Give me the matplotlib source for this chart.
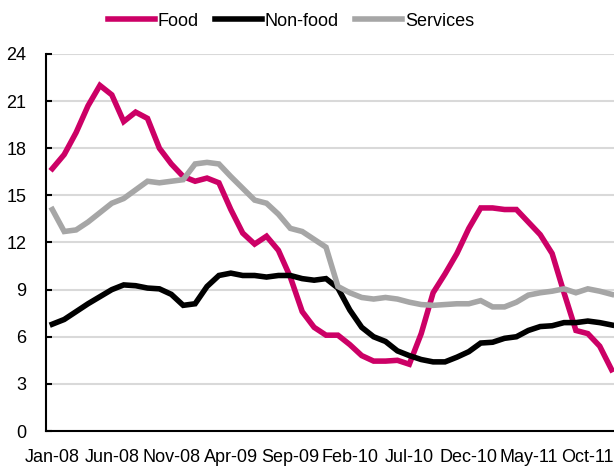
import numpy as np
import matplotlib
matplotlib.use('Agg')
import matplotlib.pyplot as plt

# monthly, Jan-08 .. Dec-11
months = [f'{m}-{y:02d}' for y in range(8, 12)
          for m in ['Jan', 'Feb', 'Mar', 'Apr', 'May', 'Jun',
                    'Jul', 'Aug', 'Sep', 'Oct', 'Nov', 'Dec']]

food = [16.7, 17.6, 19.0, 20.7, 22.0, 21.4, 19.7, 20.3, 19.9, 18.0, 17.0, 16.2,
        15.9, 16.1, 15.8, 14.1, 12.6, 11.9, 12.4, 11.5, 9.8, 7.6, 6.6, 6.1,
        6.1, 5.5, 4.8, 4.45, 4.45, 4.5, 4.25, 6.2, 8.8, 10.0, 11.3, 12.9,
        14.2, 14.2, 14.1, 14.1, 13.3, 12.5, 11.3, 8.8, 6.4, 6.2, 5.4, 3.9]

nonfood = [6.8, 7.1, 7.6, 8.1, 8.55, 9.0, 9.3, 9.25, 9.1, 9.05, 8.7, 8.0,
           8.1, 9.2, 9.9, 10.05, 9.9, 9.9, 9.8, 9.9, 9.9, 9.7, 9.6, 9.7,
           9.1, 7.7, 6.6, 6.0, 5.7, 5.1, 4.8, 4.55, 4.4, 4.4, 4.7, 5.05,
           5.6, 5.65, 5.9, 6.0, 6.4, 6.65, 6.7, 6.9, 6.9, 7.0, 6.9, 6.75]

services = [14.1, 12.7, 12.8, 13.3, 13.9, 14.5, 14.8, 15.35, 15.9, 15.8, 15.9, 16.0,
            17.0, 17.1, 17.0, 16.2, 15.45, 14.7, 14.5, 13.8, 12.9, 12.7, 12.2, 11.7,
            9.2, 8.8, 8.5, 8.4, 8.5, 8.4, 8.2, 8.05, 8.0, 8.05, 8.1, 8.1,
            8.3, 7.9, 7.9, 8.2, 8.65, 8.8, 8.9, 9.05, 8.8, 9.05, 8.9, 8.7]

plt.rcParams['font.family'] = ['Liberation Sans Narrow', 'Liberation Sans', 'DejaVu Sans']

fig = plt.figure(figsize=(6.14, 4.68), dpi=100)
ax = fig.add_axes([46 / 614, 1 - 431 / 468, 1 - 46 / 614, (431 - 54) / 468])

x = np.arange(len(months))
ax.plot(x, food, color='#CC0066', lw=4, label='Food', solid_joinstyle='miter')
ax.plot(x, nonfood, color='#000000', lw=4, label='Non-food', solid_joinstyle='miter')
ax.plot(x, services, color='#A6A6A6', lw=4, label='Services', solid_joinstyle='miter')

ax.set_xlim(-0.53, 47.2)
ax.set_ylim(0, 24)
ax.set_yticks(range(0, 25, 3))
ax.set_xticks(x[::5])
ax.set_xticklabels(months[::5])
ax.grid(axis='y', color='#D9D9D9', lw=1.5)
ax.set_axisbelow(True)

for s in ['top', 'right']:
    ax.spines[s].set_visible(False)
for s in ['left', 'bottom']:
    ax.spines[s].set_linewidth(1.5)
    ax.spines[s].set_color('black')

ax.tick_params(axis='y', direction='in', length=4.5, width=1.5, pad=14, labelsize=13)
ax.tick_params(axis='x', length=0, pad=13, labelsize=13)

fig.legend(loc='center left', bbox_to_anchor=(92 / 614, 0.955), ncol=3, frameon=False,
           fontsize=13, handlelength=2.6, handletextpad=0.15, columnspacing=0.9)

fig.savefig('out.png', dpi=100)
